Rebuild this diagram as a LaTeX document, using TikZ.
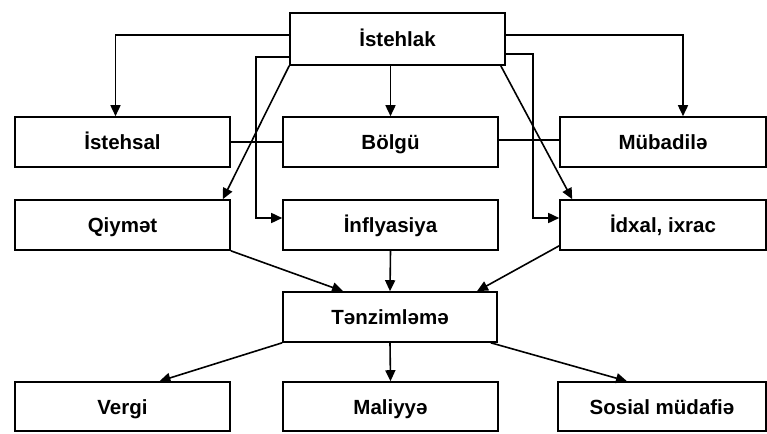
\documentclass[tikz,border=0pt]{standalone}
\usepackage{fontspec}
\setmainfont{Liberation Sans}
\usetikzlibrary{arrows.meta,positioning}
\tikzset{
  bx/.style={draw, line width=1.6pt, inner sep=0pt, minimum height=50pt,
    text height=15pt, text depth=0pt,
    font=\bfseries\fontsize{20.5}{24}\selectfont},
  arr/.style={line width=1.6pt, -{Triangle[length=11pt,width=10pt]}},
  ln/.style={line width=1.6pt}
}
\begin{document}
\begin{tikzpicture}[x=1pt,y=-1pt]
\useasboundingbox (0,0) rectangle (767,433);
% boxes (centres in pixel coordinates)
\node[bx, minimum width=215pt, minimum height=52pt] (ist) at (397.5,39) {İstehlak};
\node[bx, minimum width=215pt] (istehsal) at (122.5,142) {İstehsal};
\node[bx, minimum width=215pt] (bolgu) at (390.5,142) {Bölgü};
\node[bx, minimum width=206pt] (mub) at (663,142) {Mübadilə};
\node[bx, minimum width=215pt] (qiy) at (122.5,225) {Qiymət};
\node[bx, minimum width=215pt] (inf) at (390.5,225) {İnflyasiya};
\node[bx, minimum width=206pt] (idx) at (663,225) {İdxal, ixrac};
\node[bx, minimum width=214pt] (tenz) at (390,317) {Tənzimləmə};
\node[bx, minimum width=215pt, minimum height=49pt] (vergi) at (122.5,406.5) {Vergi};
\node[bx, minimum width=215pt, minimum height=49pt] (mal) at (390.5,406.5) {Maliyyə};
\node[bx, minimum width=208pt, minimum height=49pt] (sos) at (662,406.5) {Sosial müdafiə};
% connectors from İstehlak
\draw[arr] (ist.west |- 0,35) -| ([xshift=-7pt]istehsal.north);
\draw[arr] (ist.east |- 0,35) -| ([xshift=20pt]mub.north);
\draw[arr] (ist.south -| bolgu.north) -- (bolgu.north);
\draw[arr] (ist.west |- 0,57) -- ++(-33,0) |- ([yshift=7pt]inf.west);
\draw[arr] (ist.east |- 0,54) -- ++(27,0) |- ([yshift=7pt]idx.west);
\draw[arr] (ist.south west) -- ([xshift=-8pt]qiy.north east);
\draw[arr] ([xshift=-5pt]ist.south east) -- ([xshift=13pt]idx.north west);
% plain links
\draw[ln] (istehsal.east) -- (bolgu.west);
\draw[ln] ([yshift=2pt]bolgu.east) -- ([yshift=2pt]mub.west);
% into Tənzimləmə
\draw[arr] (qiy.south east) -- ([xshift=-47pt]tenz.north);
\draw[arr] (inf.south) -- (tenz.north);
\draw[arr] ([yshift=5pt]idx.south west) -- ([xshift=87pt]tenz.north);
% out of Tənzimləmə
\draw[arr] (tenz.south west) -- ([xshift=37pt]vergi.north);
\draw[arr] (tenz.south) -- (mal.north);
\draw[arr] ([xshift=-7pt]tenz.south east) -- ([xshift=-35pt]sos.north);
\end{tikzpicture}
\end{document}
